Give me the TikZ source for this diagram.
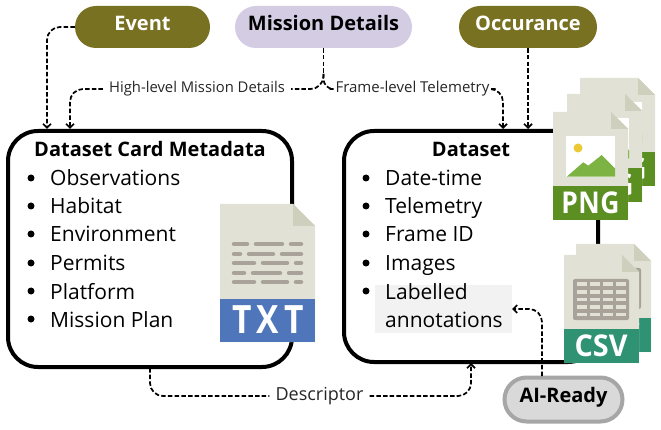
\documentclass[tikz,border=0pt]{standalone}
\usepackage{fontspec}
\setmainfont{Open Sans}
\usetikzlibrary{arrows.meta,shapes.misc}
\definecolor{olivepill}{HTML}{787122}
\definecolor{lavpill}{HTML}{D3CCE3}
\definecolor{graypill}{HTML}{D9D9D9}
\definecolor{graybord}{HTML}{A6A6A6}
\definecolor{sheet}{HTML}{E1E2D5}
\definecolor{sheetfold}{HTML}{CFCFBE}
\definecolor{sheetbar}{HTML}{A8A29A}
\definecolor{txtband}{HTML}{4F75BB}
\definecolor{pngband}{HTML}{5B8F22}
\definecolor{csvband}{HTML}{2F9273}
\definecolor{hillgreen}{HTML}{7CB342}
\definecolor{sunyellow}{HTML}{EBC934}
\newcommand\docsheet[5]{% width, height, fold, band top, band colour
  \fill[sheet] (0,0) -- (#1-#3,0) -- (#1,#3) -- (#1,#2) -- (0,#2) -- cycle;
  \fill[sheetfold] (#1-#3,0) -- (#1,#3) -- (#1-#3,#3) -- cycle;
  \fill[#5] (0,#4) rectangle (#1,#2);
}
\tikzset{
  pill/.style={rounded rectangle,minimum height=42pt,inner sep=0pt,text height=15pt,text depth=8pt,
    font=\fontsize{20}{22}\selectfont\bfseries},
  panel/.style={draw,line width=4pt,rounded corners=30pt,anchor=north west,inner sep=0pt,outer sep=0pt},
  heading/.style={font=\fontsize{20}{22}\selectfont\bfseries,anchor=base},
  entry/.style={font=\fontsize{21}{24}\selectfont,anchor=base west,inner sep=0pt},
  linklabel/.style={font=\fontsize{14.8}{17}\selectfont,inner sep=6pt,text=black!85},
  flow/.style={-{Straight Barb[length=4pt,width=8pt]},line width=1.7pt,dash pattern=on 4.5pt off 2.2pt,rounded corners=13pt},
  txtfile/.pic={
    \docsheet{95}{138}{22}{95}{txtband}
    \foreach \y/\xa/\xb/\xc/\xd in {40/27/36/62/71,50/20/29/53/62,59/34/43/67/76,69/24/33/60/69,78/34/43/67/76} {
      \draw[sheetbar,line width=4.5pt,line cap=round] (14,\y) -- (\xa,\y) (\xb,\y) -- (\xc,\y) (\xd,\y) -- (81,\y);
    }
    \node[text=white,font=\fontsize{39}{40}\selectfont\bfseries\addfontfeature{LetterSpace=16}] (label) at (48,116) {\scalebox{0.86}[1]{TXT}};
  },
  pngfile/.pic={
    \docsheet{75}{108}{17}{74}{pngband}
    \fill[white] (13,24) rectangle (62,65);
    \fill[sunyellow] (25,36) circle (4.5pt);
    \fill[hillgreen] (13.7,64.7) -- (30.3,50.3) -- (35.3,53.7) -- (48.7,43) -- (62,56.3) -- (62,64.7) -- cycle;
    \node[text=white,font=\fontsize{30}{32}\selectfont\bfseries\addfontfeature{LetterSpace=2}] (label) at (37.5,91) {\scalebox{0.88}[1]{PNG}};
  },
  csvfile/.pic={
    \docsheet{75}{108}{17}{74}{csvband}
    \fill[sheetbar,rounded corners=2pt] (9,24) rectangle (65,65);
    \foreach \r in {0,...,4} {
      \foreach \c in {0,...,3} {
        \fill[sheet] (12.7+\c*13.1,27.3+\r*7.6) rectangle ++(10,3.7);
      }
    }
    \node[text=white,font=\fontsize{30}{32}\selectfont\bfseries] (label) at (37,91) {\scalebox{0.96}[1]{CSV}};
  }
}
\begin{document}
\begin{tikzpicture}[x=1pt,y=-1pt]
  \useasboundingbox (0,0) rectangle (661,430);
  % panels
  \node[panel,minimum width=284pt,minimum height=236pt] (meta) at (8,131) {};
  \node[panel,minimum width=254pt,minimum height=231pt] (data) at (344,131) {};
  \fill[black!5] (375,285) rectangle (512,333);
  \coordinate (annot) at (512,309);
  \node[heading] (metatitle) at (150,157) {Dataset Card Metadata};
  \node[heading] (datatitle) at (471,157) {Dataset};
  \foreach \y/\t [count=\i] in {186/Observations,214/Habitat,242/Environment,271/Permits,299/Platform,327/Mission Plan} {
    \fill (31,\y-8) circle (3.5pt);
    \node[entry] (metaitem\i) at (50,\y) {\t};
  }
  \foreach \y/\t [count=\i] in {186/Date-time,214/Telemetry,242/Frame ID,271/Images,299/Labelled} {
    \fill (366,\y-8) circle (3.5pt);
    \node[entry] (dataitem\i) at (385,\y) {\t};
  }
  \node[entry] (dataitem6) at (385,327) {annotations};
  % files
  \pic (txt) at (220,204) {txtfile};
  \pic (pngback) at (580,78) {pngfile};
  \pic (pngmid) at (567,94) {pngfile};
  \pic (pngfront) at (553,112) {pngfile};
  \pic (csvback) at (576,244) {csvfile};
  \pic (csvfront) at (564,255) {csvfile};
  % pills
  \node[pill,fill=olivepill,text=white,minimum width=135pt] (event) at (142.5,27) {Event};
  \node[pill,fill=lavpill,minimum width=177pt] (mission) at (323.5,27) {Mission Details};
  \node[pill,fill=olivepill,text=white,minimum width=138pt] (occur) at (528,27) {Occurance};
  \node[pill,fill=graypill,draw=graybord,line width=4pt,minimum width=118pt,minimum height=44pt,text height=13pt,text depth=8pt] (aiready) at (563.5,399.5) {AI-Ready};
  % link labels
  \node[linklabel] (highlevel) at (197,89) {High-level Mission Details};
  \node[linklabel,font=\fontsize{15}{17}\selectfont] (framelevel) at (412.5,89) {Frame-level Telemetry};
  \node[linklabel,font=\fontsize{18}{20}\selectfont] (descr) at (319.5,396) {Descriptor};
  % connector ends
  \coordinate (split) at (323.5,74);
  \coordinate (eventin) at (47,129);
  \coordinate (highin) at (70,129);
  \coordinate (framein) at (503,129);
  \coordinate (occurin) at (528,129);
  \coordinate (descrout) at (150,368);
  \coordinate (descrin) at (471,363);
  \coordinate (aiout) at (542,376);
  % connectors
  \draw[flow] (event.west) -| (eventin);
  \draw[flow,-] (mission.south) -- (split);
  \draw[flow,-] (split) |- (highlevel.east);
  \draw[flow] (highlevel.west) -| (highin);
  \draw[flow,-,rounded corners=10pt] (split) |- (framelevel.west);
  \draw[flow] (framelevel.east) -| (framein);
  \draw[flow] (occur.south) -- (occurin);
  \draw[flow,-] (descrout) |- (descr.west);
  \draw[flow] (descr.east) -| (descrin);
  \draw[flow] (aiout) |- (annot);
\end{tikzpicture}
\end{document}
